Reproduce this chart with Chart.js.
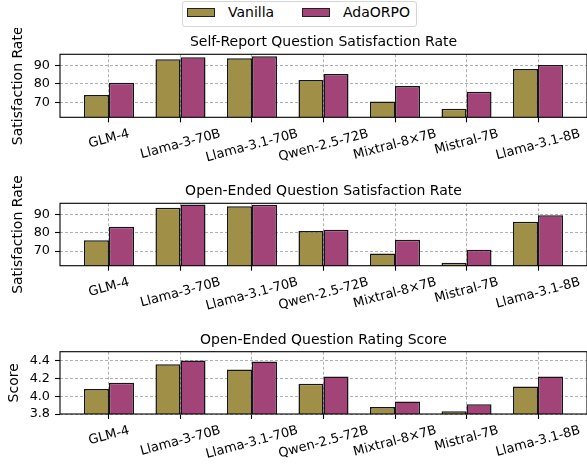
<!DOCTYPE html>
<html><head><meta charset="utf-8">
<script src="https://cdn.jsdelivr.net/npm/chart.js@4.4.1/dist/chart.umd.min.js"></script>
<style>
html,body{margin:0;padding:0;background:#fff;width:587px;height:466px;overflow:hidden;font-family:"DejaVu Sans",sans-serif;}
.pane{position:absolute;left:0;}
#legend{position:absolute;left:182px;top:1px;width:233px;height:24px;border:1px solid #d6d6d6;border-radius:3px;background:#fff;}
.sw{position:absolute;top:6px;width:26px;height:7px;border:1px solid #222;}
.lt{position:absolute;top:2px;font-size:14px;line-height:17px;color:#000;white-space:nowrap;}
</style></head><body>
<div id="legend">
  <div class="sw" style="left:4px;background:#A08F47"></div><div class="lt" style="left:45px">Vanilla</div>
  <div class="sw" style="left:119px;background:#A34478"></div><div class="lt" style="left:160px">AdaORPO</div>
</div>
<div class="pane" style="top:28px"><canvas id="c1" width="587" height="147"></canvas></div>
<div class="pane" style="top:176px"><canvas id="c2" width="587" height="147"></canvas></div>
<div class="pane" style="top:324px"><canvas id="c3" width="587" height="142"></canvas></div>
<script>
const categories = ['GLM-4','Llama-3-70B','Llama-3.1-70B','Qwen-2.5-72B','Mixtral-8×7B','Mistral-7B','Llama-3.1-8B'];
const seriesNames = ['Vanilla','AdaORPO'];
const selfVanilla = [74.0, 93.5, 94.0, 82.2, 70.4, 66.5, 88.2];
const selfAda     = [80.6, 94.6, 95.1, 85.5, 78.9, 75.8, 90.4];
const openVanilla = [75.8, 93.6, 94.4, 80.9, 68.7, 63.6, 86.0];
const openAda     = [83.2, 95.4, 95.2, 81.6, 76.2, 70.7, 89.5];
const scoreVanilla = [4.08, 4.36, 4.30, 4.14, 3.88, 3.83, 4.11];
const scoreAda     = [4.15, 4.40, 4.39, 4.22, 3.94, 3.91, 4.22];
const ticksRate  = [70, 80, 90];
const ticksScore = [3.8, 4.0, 4.2, 4.4];

Chart.defaults.font.family = "'DejaVu Sans'";
Chart.defaults.color = '#000';

const COLORS = ['#A08F47', '#A34478'];
const GRID = 'rgba(150,150,150,0.75)';

const decor = {
  id: 'decor',
  afterDraw(chart, args, opts) {
    const {ctx, chartArea: a, scales: {x}} = chart;
    ctx.save();
    ctx.strokeStyle = '#000'; ctx.lineWidth = 1.1;
    ctx.strokeRect(a.left, a.top, a.right - a.left, a.bottom - a.top);
    ctx.fillStyle = '#000';
    ctx.font = '14px "DejaVu Sans"';
    ctx.textAlign = 'center'; ctx.textBaseline = 'alphabetic';
    ctx.fillText(opts.title, (a.left + a.right) / 2, a.top - 8.2);
    ctx.font = '13px "DejaVu Sans"';
    const ang = 15 * Math.PI / 180;
    categories.forEach((c, i) => {
      const px = x.getPixelForValue(i);
      const w = ctx.measureText(c).width;
      const h = 13;
      const bh = w * Math.sin(ang) + h * Math.cos(ang);
      const cy = a.bottom + 10 + bh / 2;
      ctx.save();
      ctx.translate(px, cy); ctx.rotate(-ang);
      ctx.textAlign = 'center'; ctx.textBaseline = 'middle';
      ctx.fillText(c, 0, 0);
      ctx.restore();
    });
    ctx.restore();
  }
};

function makePanel(id, title, yTitle, yTitlePad, vanilla, ada, yMin, yMax, yTicks, dec, padTop, xHeight) {
  const sets = [vanilla, ada].map((arr, k) => ({
    label: seriesNames[k],
    data: arr.map((v, i) => ({x: i, y: v})),
    backgroundColor: COLORS[k],
    borderColor: '#151515',
    borderWidth: 1.5,
    borderSkipped: false,
    barPercentage: 1,
    categoryPercentage: 0.7
  }));
  new Chart(document.getElementById(id), {
    type: 'bar',
    data: {datasets: sets},
    plugins: [decor],
    options: {
      responsive: false, animation: false, events: [],
      layout: {padding: {top: padTop, right: -1, bottom: 0, left: 0}},
      plugins: {legend: {display: false}, tooltip: {enabled: false}, decor: {title}},
      scales: {
        x: {
          type: 'linear', min: -0.685, max: categories.length - 1 + 0.685, offset: false,
          afterBuildTicks: s => { s.ticks = categories.map((_, i) => ({value: i})); },
          afterFit: s => { s.height = xHeight; },
          ticks: {display: false},
          grid: {offset: false, color: GRID, lineWidth: 1, drawTicks: true, tickLength: 5, tickColor: '#000', tickWidth: 1.1, tickBorderDash: []},
          border: {display: false, dash: [3, 2]}
        },
        y: {
          type: 'linear', min: yMin, max: yMax, beginAtZero: false,
          afterBuildTicks: s => { s.ticks = yTicks.map(v => ({value: v})); },
          afterFit: s => { s.width = 60; },
          ticks: {callback: v => Number(v).toFixed(dec), font: {size: 12.8}, color: '#000', padding: 5},
          title: {display: true, text: yTitle, font: {size: 14}, color: '#000', padding: {top: yTitlePad, bottom: 0}},
          grid: {color: GRID, lineWidth: 1, drawTicks: true, tickLength: 5, tickColor: '#000', tickWidth: 1.1, tickBorderDash: []},
          border: {display: false, dash: [3, 2]}
        }
      }
    }
  });
}

makePanel('c1', 'Self-Report Question Satisfaction Rate', 'Satisfaction Rate', 10.3, selfVanilla, selfAda, 61.8, 96.2, ticksRate, 0, 26.3, 57.7);
makePanel('c2', 'Open-Ended Question Satisfaction Rate', 'Satisfaction Rate', 10.3, openVanilla, openAda, 62.0, 96.0, ticksRate, 0, 27.3, 57.3);
makePanel('c3', 'Open-Ended Question Rating Score', 'Score', 5.8, scoreVanilla, scoreAda, 3.8, 4.5, ticksScore, 1, 27.7, 52);
</script>
</body></html>
